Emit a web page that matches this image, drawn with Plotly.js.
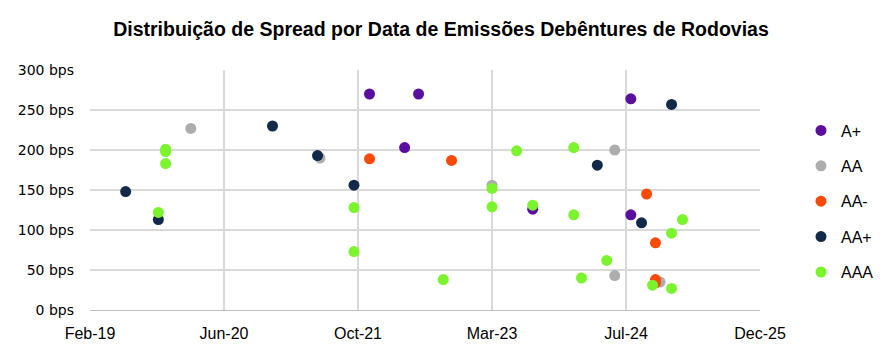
<!DOCTYPE html>
<html>
<head>
<meta charset="utf-8">
<script src="https://cdn.plot.ly/plotly-3.0.1.min.js"></script>
<style>html,body{margin:0;padding:0;background:#fff;}#chart{width:887px;height:358px;}</style>
</head>
<body>
<div id="chart"></div>
<script>
// Ratings (series)
const seriesNames = ["A+", "AA", "AA-", "AA+", "AAA"];
const seriesColors = ["#5B0F9F", "#ADADAD", "#F94A08", "#12294A", "#7BF42E"];

// Dates of issuance and spreads (bps) per rating
const datesAplus = ["2021-12-10", "2022-04-20", "2022-06-11", "2023-08-11", "2024-08-11", "2024-08-11"];
const spreadAplus = [270, 203, 270, 126, 264, 119];

const datesAA = ["2020-02-12", "2021-06-08", "2023-03-12", "2024-06-12", "2024-06-12", "2024-11-28"];
const spreadAA = [227, 190, 156, 200, 43, 35];

const datesAAminus = ["2021-12-10", "2022-10-12", "2024-10-09", "2024-11-11", "2024-11-11", "2024-11-11"];
const spreadAAminus = [189, 187, 145, 84, 38, 34];

const datesAAplus = ["2019-06-14", "2019-10-14", "2020-12-13", "2021-05-30", "2021-10-13", "2024-04-08", "2024-09-20", "2025-01-10"];
const spreadAAplus = [148, 113, 230, 193, 156, 181, 109, 257];

const datesAAA = ["2019-10-14", "2019-11-10", "2019-11-10", "2019-11-10", "2021-10-13", "2021-10-13", "2022-09-11",
                  "2023-03-12", "2023-03-12", "2023-06-12", "2023-08-11", "2024-01-11", "2024-01-11", "2024-02-09",
                  "2024-05-13", "2024-10-31", "2025-01-10", "2025-01-10", "2025-02-20"];
const spreadAAA = [122, 201, 198, 183, 128, 73, 38,
                   152, 129, 199, 131, 203, 119, 40,
                   62, 31, 96, 27, 113];

// Axis ticks
const xTickVals = ["2019-02-01", "2020-06-15", "2021-10-28", "2023-03-12", "2024-07-24", "2025-12-06"];
const xTickText = ["Feb-19", "Jun-20", "Oct-21", "Mar-23", "Jul-24", "Dec-25"];
const yTickVals = [0, 50, 100, 150, 200, 250, 300];
const yTickText = ["0 bps", "50 bps", "100 bps", "150 bps", "200 bps", "250 bps", "300 bps"];

const allDates = [datesAplus, datesAA, datesAAminus, datesAAplus, datesAAA];
const allSpreads = [spreadAplus, spreadAA, spreadAAminus, spreadAAplus, spreadAAA];

const traces = seriesNames.map((name, i) => ({
  type: "scatter",
  mode: "markers",
  name: name,
  legendgroup: name,
  x: allDates[i],
  y: allSpreads[i],
  marker: {color: seriesColors[i], size: 11}
}));

const font = "Liberation Sans, Arial, sans-serif";

const layout = {
  width: 887,
  height: 358,
  paper_bgcolor: "#ffffff",
  plot_bgcolor: "#ffffff",
  margin: {l: 90, r: 127, t: 70, b: 48},
  font: {family: font, color: "#000000"},
  title: {
    text: "<b>Distribuição de Spread por Data de Emissões Debêntures de Rodovias</b>",
    font: {family: font, size: 19.5, color: "#000000"},
    x: 441 / 887, xanchor: "center", xref: "container",
    y: 1 - 29 / 358, yanchor: "middle", yref: "container"
  },
  xaxis: {
    type: "date",
    range: ["2019-02-01", "2025-12-06"],
    tickmode: "array",
    tickvals: xTickVals,
    ticktext: xTickText,
    showgrid: true,
    gridcolor: "#D9D9D9",
    gridwidth: 1.3,
    showline: true,
    linecolor: "#BFBFBF",
    linewidth: 1.3,
    zeroline: false,
    ticks: "",
    automargin: false,
    ticklabelstandoff: 8,
    tickfont: {family: font, size: 16, color: "#000000"}
  },
  yaxis: {
    range: [0, 300],
    tickmode: "array",
    tickvals: yTickVals,
    ticktext: yTickText,
    showgrid: true,
    gridcolor: "#D9D9D9",
    gridwidth: 1.3,
    showline: false,
    zeroline: false,
    ticks: "",
    automargin: false,
    ticklabelstandoff: 15,
    tickfont: {family: "DejaVu Sans, sans-serif", size: 14, color: "#000000"}
  },
  showlegend: true,
  legend: {
    xref: "container",
    yref: "container",
    x: 801 / 887,
    xanchor: "left",
    y: 1 - 113.5 / 358,
    yanchor: "top",
    tracegroupgap: 11.6,
    itemwidth: 30,
    font: {family: font, size: 16, color: "#000000"},
    bgcolor: "rgba(0,0,0,0)"
  }
};

Plotly.newPlot("chart", traces, layout, {displayModeBar: false, staticPlot: true});
</script>
</body>
</html>
